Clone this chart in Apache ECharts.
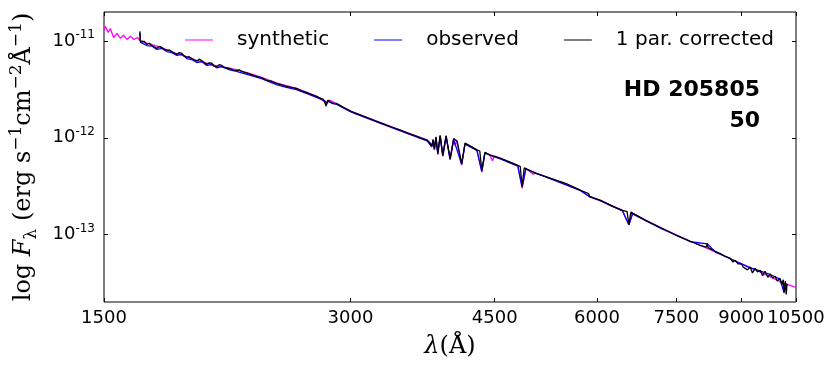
<!DOCTYPE html>
<html>
<head>
<meta charset="utf-8">
<script src="https://cdn.jsdelivr.net/npm/echarts@6/dist/echarts.min.js"></script>
<style>
  html, body { margin: 0; padding: 0; background: #fff; }
  #chart { width: 830px; height: 368px; }
</style>
</head>
<body>
<div id="chart"></div>
<script>
// wavelength in Angstrom, flux in erg s^-1 cm^-2 A^-1
const synWave = [1500, 1505, 1518, 1527, 1541, 1556, 1570, 1585, 1600, 1616, 1632, 1648, 1659, 1680, 1716, 1752, 1790, 1841, 1893, 1947, 2002, 2059, 2136, 2209, 2304, 2436, 2577, 2726, 2800, 2827, 3007, 3271, 3459, 3721, 3770, 3785, 3798, 3815, 3835, 3860, 3889, 3925, 3970, 4010, 4026, 4045, 4101, 4140, 4209, 4281, 4340, 4378, 4440, 4471, 4500, 4709, 4802, 4861, 4911, 5015, 5051, 5268, 5730, 5876, 6061, 6446, 6563, 6630, 7172, 7801, 8367, 9000, 9492, 10040, 10239, 10500];
const synFlux = [1.30e-11, 1.42e-11, 1.23e-11, 1.35e-11, 1.09e-11, 1.20e-11, 1.07e-11, 1.15e-11, 1.04e-11, 1.12e-11, 1.04e-11, 1.09e-11, 1.02e-11, 9.7e-12, 9.2e-12, 8.7e-12, 8.1e-12, 7.4e-12, 6.9e-12, 6.3e-12, 5.9e-12, 5.55e-12, 5.25e-12, 4.9e-12, 4.4e-12, 3.7e-12, 3.25e-12, 2.7e-12, 2.3e-12, 2.45e-12, 1.88e-12, 1.43e-12, 1.19e-12, 9.5e-13, 8.0e-13, 9.5e-13, 7.5e-13, 1.0e-12, 6.7e-13, 1.05e-12, 6.4e-13, 1.04e-12, 5.9e-13, 9.6e-13, 8.3e-13, 9.3e-13, 5.2e-13, 8.7e-13, 8.1e-13, 7.4e-13, 4.4e-13, 7.0e-13, 6.6e-13, 5.8e-13, 6.5e-13, 5.5e-13, 5.15e-13, 3.0e-13, 4.8e-13, 4.2e-13, 4.3e-13, 3.8e-13, 2.87e-13, 2.45e-13, 2.25e-13, 1.77e-13, 1.25e-13, 1.65e-13, 1.18e-13, 8.5e-14, 6.6e-14, 5.0e-14, 4.1e-14, 3.25e-14, 3.05e-14, 2.84e-14];

const obsWave = [1659, 1662, 1692, 1716, 1740, 1765, 1790, 1815, 1841, 1867, 1893, 1920, 1947, 1974, 2002, 2031, 2059, 2088, 2136, 2178, 2209, 2271, 2336, 2436, 2506, 2577, 2650, 2726, 2795, 2800, 2815, 2883, 3007, 3271, 3459, 3721, 3770, 3785, 3798, 3815, 3835, 3860, 3889, 3925, 3970, 4010, 4101, 4140, 4281, 4340, 4378, 4579, 4802, 4861, 4911, 5268, 5730, 5876, 6061, 6446, 6563, 6630, 7172, 7801, 8181, 8367, 8727, 9000, 9230, 9492, 9762, 10040, 10153, 10239];
const obsFlux = [1.22e-11, 9.7e-12, 9.0e-12, 8.9e-12, 8.2e-12, 8.4e-12, 7.8e-12, 7.6e-12, 7.1e-12, 7.3e-12, 6.6e-12, 6.45e-12, 6.0e-12, 6.15e-12, 5.6e-12, 5.7e-12, 5.3e-12, 5.45e-12, 5.05e-12, 4.85e-12, 4.7e-12, 4.4e-12, 4.1e-12, 3.55e-12, 3.32e-12, 3.15e-12, 2.88e-12, 2.62e-12, 2.40e-12, 2.12e-12, 2.38e-12, 2.22e-12, 1.84e-12, 1.40e-12, 1.17e-12, 9.3e-13, 8.1e-13, 9.4e-13, 7.6e-13, 1.0e-12, 6.8e-13, 1.04e-12, 6.5e-13, 1.03e-12, 6.0e-13, 9.6e-13, 5.3e-13, 8.6e-13, 7.4e-13, 4.5e-13, 6.95e-13, 6.0e-13, 5.1e-13, 3.1e-13, 4.75e-13, 3.75e-13, 2.83e-13, 2.46e-13, 2.22e-13, 1.75e-13, 1.26e-13, 1.63e-13, 1.16e-13, 8.4e-14, 8.0e-14, 6.6e-14, 5.6e-14, 4.95e-14, 4.5e-14, 4.2e-14, 3.85e-14, 3.45e-14, 2.5e-14, 3.05e-14];

const corWave = [1659, 1662, 1669, 1680, 1692, 1704, 1716, 1728, 1740, 1752, 1765, 1778, 1790, 1803, 1815, 1828, 1841, 1854, 1867, 1880, 1893, 1906, 1920, 1933, 1947, 1960, 1974, 1988, 2002, 2016, 2031, 2045, 2059, 2074, 2088, 2110, 2136, 2158, 2178, 2195, 2209, 2240, 2271, 2304, 2336, 2369, 2400, 2436, 2470, 2506, 2540, 2577, 2610, 2650, 2690, 2726, 2760, 2780, 2795, 2800, 2806, 2815, 2827, 2852, 2883, 2940, 3007, 3070, 3136, 3200, 3271, 3360, 3459, 3530, 3608, 3660, 3721, 3735, 3750, 3770, 3785, 3798, 3815, 3835, 3860, 3889, 3925, 3970, 4010, 4050, 4101, 4140, 4209, 4281, 4315, 4340, 4378, 4452, 4579, 4709, 4802, 4835, 4861, 4890, 4911, 5051, 5268, 5494, 5730, 5860, 5876, 5900, 6061, 6268, 6446, 6530, 6563, 6600, 6630, 6876, 7172, 7500, 7801, 8023, 8160, 8181, 8200, 8367, 8500, 8605, 8727, 8790, 8850, 8920, 9000, 9050, 9101, 9160, 9230, 9290, 9360, 9420, 9492, 9560, 9626, 9700, 9762, 9830, 9900, 9960, 10040, 10090, 10130, 10153, 10190, 10215, 10239];
const corFlux = [1.26e-11, 9.9e-12, 9.6e-12, 9.9e-12, 9.25e-12, 9.5e-12, 9.0e-12, 8.7e-12, 8.4e-12, 8.8e-12, 8.6e-12, 8.2e-12, 8.0e-12, 8.1e-12, 7.8e-12, 7.5e-12, 7.3e-12, 7.6e-12, 7.45e-12, 7.0e-12, 6.8e-12, 6.9e-12, 6.6e-12, 6.4e-12, 6.2e-12, 6.5e-12, 6.3e-12, 6.0e-12, 5.75e-12, 5.95e-12, 5.9e-12, 5.5e-12, 5.45e-12, 5.7e-12, 5.6e-12, 5.3e-12, 5.2e-12, 5.0e-12, 4.98e-12, 5.05e-12, 4.85e-12, 4.7e-12, 4.5e-12, 4.3e-12, 4.2e-12, 3.92e-12, 3.85e-12, 3.65e-12, 3.52e-12, 3.4e-12, 3.32e-12, 3.24e-12, 3.08e-12, 2.95e-12, 2.8e-12, 2.68e-12, 2.56e-12, 2.49e-12, 2.45e-12, 2.16e-12, 2.3e-12, 2.44e-12, 2.4e-12, 2.25e-12, 2.27e-12, 2.06e-12, 1.87e-12, 1.75e-12, 1.63e-12, 1.52e-12, 1.42e-12, 1.3e-12, 1.19e-12, 1.11e-12, 1.04e-12, 9.9e-13, 9.47e-13, 9.3e-13, 8.9e-13, 8.2e-13, 9.6e-13, 7.7e-13, 1.02e-12, 6.9e-13, 1.06e-12, 6.6e-13, 1.05e-12, 6.1e-13, 9.8e-13, 9.2e-13, 5.4e-13, 8.8e-13, 8.15e-13, 7.5e-13, 7.3e-13, 4.6e-13, 7.06e-13, 6.58e-13, 6.12e-13, 5.57e-13, 5.18e-13, 5.05e-13, 3.14e-13, 4.9e-13, 4.83e-13, 4.28e-13, 3.8e-13, 3.38e-13, 2.86e-13, 2.65e-13, 2.48e-13, 2.6e-13, 2.25e-13, 1.95e-13, 1.77e-13, 1.72e-13, 1.27e-13, 1.7e-13, 1.65e-13, 1.4e-13, 1.18e-13, 9.8e-14, 8.5e-14, 7.7e-14, 7.4e-14, 8.1e-14, 7.3e-14, 6.7e-14, 6.3e-14, 5.95e-14, 5.65e-14, 5.2e-14, 5.4e-14, 4.95e-14, 5.0e-14, 4.6e-14, 4.8e-14, 4.3e-14, 4.6e-14, 4.0e-14, 4.45e-14, 4.1e-14, 4.25e-14, 3.75e-14, 4.15e-14, 3.6e-14, 3.9e-14, 3.55e-14, 3.7e-14, 3.3e-14, 3.5e-14, 3.0e-14, 3.4e-14, 2.5e-14, 3.3e-14, 2.4e-14, 3.1e-14];

// last tick sits a hair inside the axis max so it is not dropped by rounding
const xTicks = [1500, 3000, 4500, 6000, 7500, 9000, 10499.99];
const yTicks = [1e-13, 1e-12, 1e-11];

const sans = 'DejaVu Sans';
const serif = 'DejaVu Serif';

const pairs = (w, f) => w.map((x, i) => [x, f[i]]);

const chart = echarts.init(document.getElementById('chart'));

const tickStyle = { inside: true, length: 4, lineStyle: { color: '#000', width: 1 } };

const option = {
  animation: false,
  grid: {
    left: 102, right: 34, top: 12, bottom: 66,
    show: true, borderColor: '#000', borderWidth: 1
  },
  legend: {
    data: ['synthetic', 'observed', '1 par. corrected'],
    left: 185, top: 30, padding: 0,
    icon: 'rect', itemWidth: 28, itemHeight: 1, itemGap: 45,
    textStyle: { fontSize: 20, fontFamily: sans, color: '#000', padding: [0, 0, 0, 19] }
  },
  xAxis: [
    {
      type: 'log', logBase: 10, min: 1500, max: 10500, position: 'bottom',
      axisLine: { show: false }, splitLine: { show: false },
      axisTick: Object.assign({ customValues: xTicks }, tickStyle),
      axisLabel: {
        customValues: xTicks, color: '#000', fontSize: 18, fontFamily: sans, margin: 7,
        formatter: v => String(Math.round(v))
      },
      name: '{i|λ}{t|(Å)}', nameLocation: 'middle', nameGap: 33,
      nameTextStyle: {
        rich: {
          i: { fontSize: 24, fontFamily: serif, fontStyle: 'italic', color: '#000' },
          t: { fontSize: 24, fontFamily: serif, color: '#000' }
        }
      }
    },
    {
      type: 'log', logBase: 10, min: 1500, max: 10500, position: 'top',
      axisLine: { show: false }, splitLine: { show: false },
      axisTick: Object.assign({ customValues: xTicks }, tickStyle),
      axisLabel: { show: false }
    }
  ],
  yAxis: [
    {
      type: 'log', logBase: 10, min: 2e-14, max: 2e-11, position: 'left',
      axisLine: { show: false }, splitLine: { show: false },
      axisTick: Object.assign({ customValues: yTicks }, tickStyle),
      axisLabel: {
        customValues: yTicks, margin: 9, color: '#000',
        formatter: v => '{b|10}{e|' + Math.round(Math.log10(v)) + '}',
        rich: {
          b: { fontSize: 18, fontFamily: sans, lineHeight: 24, color: '#000' },
          e: { fontSize: 12, fontFamily: sans, lineHeight: 12, verticalAlign: 'top', color: '#000' }
        }
      },
      name: '{t|log }{i|F}{s|λ}{t| (erg s}{u|−1}{t|cm}{u|−2}{t|Å}{u|−1}{t|)}',
      nameLocation: 'middle', nameRotate: 90, nameGap: 64,
      nameTextStyle: {
        rich: {
          t: { fontSize: 24, fontFamily: serif, lineHeight: 32, color: '#000' },
          i: { fontSize: 24, fontFamily: serif, fontStyle: 'italic', lineHeight: 32, color: '#000' },
          s: { fontSize: 17, fontFamily: serif, lineHeight: 17, verticalAlign: 'bottom', color: '#000' },
          u: { fontSize: 17, fontFamily: serif, lineHeight: 17, verticalAlign: 'top', color: '#000' }
        }
      }
    },
    {
      type: 'log', logBase: 10, min: 2e-14, max: 2e-11, position: 'right',
      axisLine: { show: false }, splitLine: { show: false },
      axisTick: Object.assign({ customValues: yTicks }, tickStyle),
      axisLabel: { show: false }
    }
  ],
  series: [
    {
      name: 'synthetic', type: 'line', symbol: 'none', color: '#ff00ff',
      lineStyle: { width: 1.3 }, data: pairs(synWave, synFlux)
    },
    {
      name: 'observed', type: 'line', symbol: 'none', color: '#0000ff',
      lineStyle: { width: 1.3 }, data: pairs(obsWave, obsFlux)
    },
    {
      name: '1 par. corrected', type: 'line', symbol: 'none', color: '#000000',
      lineStyle: { width: 1.3 }, data: pairs(corWave, corFlux)
    }
  ],
  graphic: [
    {
      type: 'text', x: 760, y: 90,
      style: { text: 'HD 205805', font: 'bold 22px "DejaVu Sans"', fill: '#000', align: 'right', verticalAlign: 'middle' }
    },
    {
      type: 'text', x: 760, y: 121,
      style: { text: '50', font: 'bold 22px "DejaVu Sans"', fill: '#000', align: 'right', verticalAlign: 'middle' }
    }
  ]
};

chart.setOption(option);
</script>
</body>
</html>
